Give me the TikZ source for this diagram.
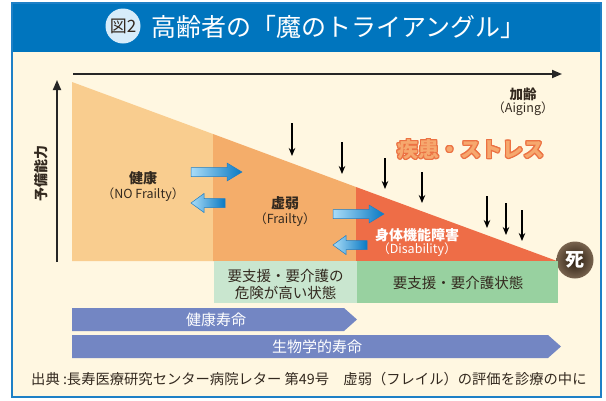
\documentclass[tikz,border=0pt]{standalone}
\usepackage{fontspec}
\setmainfont{Noto Sans CJK JP}
\usepackage{contour}
\contourlength{1.1pt}
\usetikzlibrary{arrows.meta,shadings}
\definecolor{hdr}{HTML}{0075BE}
\definecolor{frm}{HTML}{1E80C6}
\definecolor{cream}{HTML}{FFF7E1}
\definecolor{or1}{HTML}{F9CD8F}
\definecolor{or2}{HTML}{F4AD6A}
\definecolor{or3}{HTML}{EE6D47}
\definecolor{gr1}{HTML}{C9E6CF}
\definecolor{gr2}{HTML}{98D1A0}
\definecolor{pur}{HTML}{7386C3}
\definecolor{bl1}{HTML}{A9DCF7}
\definecolor{bl2}{HTML}{0A79C3}
\definecolor{bl3}{HTML}{1D7EC6}
\definecolor{txt}{HTML}{33291F}
\definecolor{stfill}{HTML}{F6A86E}
\definecolor{ststroke}{HTML}{EC7243}
\definecolor{circ}{HTML}{D6ECFA}
\tikzset{
  lab/.style={font=\fontsize{14}{16}\selectfont\bfseries, text=txt, inner sep=0pt},
  sublab/.style={font=\fontsize{12.5}{14}\selectfont, text=txt, inner sep=0pt},
  wlab/.style={font=\fontsize{14}{16}\selectfont\bfseries, text=white, inner sep=0pt},
  wsub/.style={font=\fontsize{12.5}{14}\selectfont, text=white, inner sep=0pt},
  boxlab/.style={font=\fontsize{14.5}{17}\selectfont, text=txt, inner sep=0pt, align=center},
  barlab/.style={font=\fontsize{15}{16}\selectfont, text=white, inner sep=0pt},
  downarr/.style={line width=1.4pt, -{Stealth[length=8pt,width=6.5pt]}, black},
  axisarr/.style={line width=1.8pt, -{Triangle[length=10pt,width=8pt]}, black!85},
  bluearr/.style={left color=bl1, right color=bl2, draw=bl3, line width=0.5pt},
  pics/rarr/.style={code={\path[bluearr] (0,-4.5) -- (36,-4.5) -- (36,-9) -- (51,0) -- (36,9) -- (36,4.5) -- (0,4.5) -- cycle;}},
  pics/larr/.style={code={\path[bluearr] (0,0) -- (13,-9.5) -- (13,-4.5) -- (34,-4.5) -- (34,4.5) -- (13,4.5) -- (13,9.5) -- cycle;}},
}
\begin{document}
\begin{tikzpicture}[x=1pt,y=-1pt]
\useasboundingbox (0,0) rectangle (606,400);
% frame
\fill[cream] (12,3) rectangle (601,397);
\fill[hdr] (11,2) rectangle (602,52);
\draw[frm, line width=2.2pt] (12,3) rectangle (601,397);
\node[circle, fill=circ, minimum size=35pt, inner sep=0pt, font=\fontsize{17}{18}\selectfont, text=txt] (fig) at (123,26) {図2};
\node[font=\fontsize{25}{27}\selectfont, text=white, anchor=west, inner sep=0pt] (title) at (151,27) {高齢者の「魔のトライアングル」};
% triangle regions
\fill[or1] (72,82) -- (213,134) -- (213,261) -- (72,261) -- cycle;
\fill[or2] (213,134) -- (356,187) -- (356,261) -- (213,261) -- cycle;
\fill[or3] (356,187) -- (557,261) -- (356,261) -- cycle;
% axes
\coordinate (ax1) at (73,74);
\coordinate (ax2) at (562,74);
\draw[axisarr] (ax1) -- (ax2);
\coordinate (ay1) at (57,262);
\coordinate (ay2) at (57,80);
\draw[axisarr] (ay1) -- (ay2);
\node[lab, font=\fontsize{14}{16}\selectfont\bfseries, rotate=90] (yl) at (41,173) {予備能力};
\node[lab, font=\fontsize{13.5}{15}\selectfont\bfseries] (age) at (523,94) {加齢};
\node[sublab] (aging) at (523,109) {（Aiging）};
% stress
\node[font=\fontsize{21}{24}\selectfont\bfseries, inner sep=0pt] (stress) at (471,150) {\textcolor{stfill}{\contour{ststroke}{疾患・ストレス}}};
% down arrows
\foreach \x/\ya/\yb [count=\i] in {292/123/156, 342/142/174, 385/158/189, 422/172/203, 487/196/228, 506/203/235, 522/210/241}{
  \coordinate (d\i a) at (\x,\ya);
  \coordinate (d\i b) at (\x,\yb);
  \draw[downarr] (d\i a) -- (d\i b);
}
% region labels
\node[lab] (h1) at (143,178) {健康};
\node[sublab] (h2) at (143,195) {（NO Frailty）};
\node[lab] (f1) at (285,203) {虚弱};
\node[sublab] (f2) at (285,220) {（Frailty）};
\node[wlab] (d1) at (417,235) {身体機能障害};
\node[wsub] (d2) at (417,250) {（Disability）};
% blue arrows
\pic at (191,172) {rarr};
\pic at (191,203) {larr};
\pic at (333,214) {rarr};
\pic at (333,245) {larr};
% death
\node[circle, minimum size=37pt, inner sep=0pt, inner color=black!80!brown, outer color=black!40!brown!55!gray, text=white, font=\fontsize{19}{20}\selectfont\bfseries] (death) at (575,260) {死};
% green boxes
\fill[gr1] (214,261) rectangle (357,303);
\fill[gr2] (357,261) rectangle (558,303);
\node[boxlab] (b1) at (285.5,284.5) {要支援・要介護の\\危険が高い状態};
\node[boxlab] (b2) at (458,283) {要支援・要介護状態};
% bars
\fill[pur] (72,308) -- (344,308) -- (357,319.5) -- (344,331) -- (72,331) -- cycle;
\fill[pur] (72,335) -- (548,335) -- (561,346.5) -- (548,358) -- (72,358) -- cycle;
\node[barlab] (l1) at (216,319.5) {健康寿命};
\node[barlab] (l2) at (317,346.5) {生物学的寿命};
% source
\node[font=\fontsize{14.3}{16}\selectfont, text=txt, anchor=west, inner sep=0pt] (src) at (31,379) {出典 :長寿医療研究センター病院レター 第49号\hspace{1em}虚弱（フレイル）の評価を診療の中に};
\end{tikzpicture}
\end{document}
